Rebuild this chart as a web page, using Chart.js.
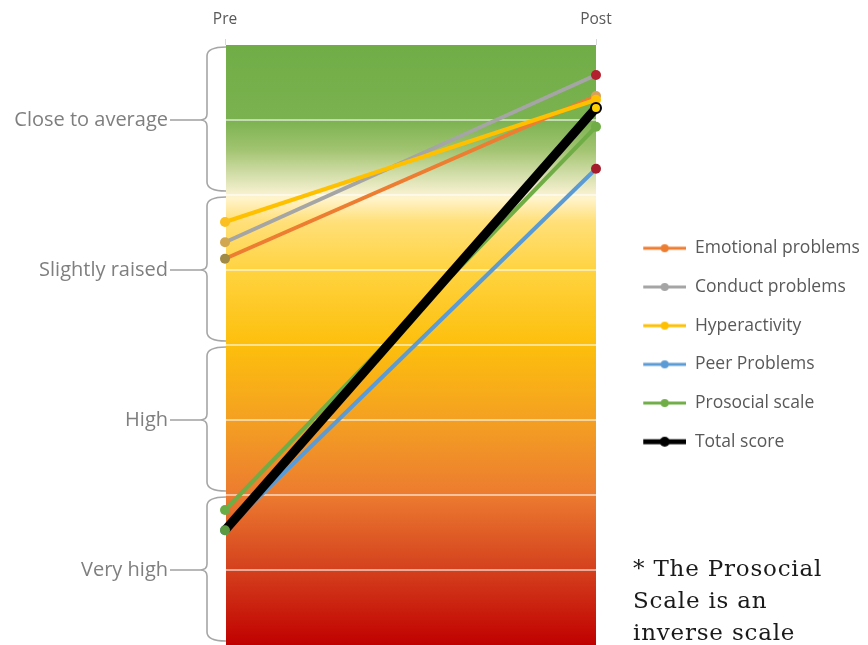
<!DOCTYPE html>
<html><head><meta charset="utf-8">
<script src="https://cdn.jsdelivr.net/npm/chart.js@4/dist/chart.umd.min.js"></script>
<style>
html,body{margin:0;padding:0;background:#fff;}
#wrap{position:relative;width:868px;height:645px;overflow:hidden;}
#note{position:absolute;left:633px;top:552px;font-family:"DejaVu Serif";font-size:23px;letter-spacing:0.8px;line-height:32px;color:#1a1a1a;}
</style></head><body>
<div id="wrap"><canvas id="c" width="868" height="645"></canvas>
<div id="note">* The Prosocial<br>Scale is an<br>inverse scale</div></div>
<script>
// Time points and score bands
const timepoints = ['Pre', 'Post'];
const bandValues = [1, 3, 5, 7];
const bandNames = ['Very high', 'High', 'Slightly raised', 'Close to average'];

// SDQ sub-scale scores (band units) at Pre and Post
const emotional = [5.15, 7.32];
const conduct = [5.37, 7.60];
const hyperactivity = [5.64, 7.27];
const peer = [1.53, 6.35];
const prosocial = [1.80, 6.91];
const total = [1.53, 7.16];

function legendIcon(color, lw, r) {
  const c = document.createElement('canvas');
  c.width = 69; c.height = 14;
  const g = c.getContext('2d');
  g.strokeStyle = color; g.lineWidth = lw;
  g.beginPath(); g.moveTo(26, 7); g.lineTo(69, 7); g.stroke();
  g.fillStyle = color;
  g.beginPath(); g.arc(47.5, 7, r, 0, Math.PI * 2); g.fill();
  return c;
}

// Vertical colour ramp behind the plot, keyed by scale value
const ramp = [
  [8, '#70ad47'], [7, '#7ab24f'], [6.6, '#a2c471'], [6.3, '#cfdca5'], [6.04, '#f4efcc'],
  [5.96, '#fff4cc'], [5.65, '#ffe07a'], [5, '#ffd340'], [4, '#fdbf0c'],
  [3, '#f4a022'], [2, '#ec7b30'], [1, '#d4401d'], [0, '#c00000']
];

const backdrop = {
  id: 'backdrop',
  beforeDraw(chart) {
    const { ctx, chartArea: a, scales: { y } } = chart;
    const g = ctx.createLinearGradient(0, a.top, 0, a.bottom);
    ramp.forEach(([v, col]) => {
      const f = (y.getPixelForValue(v) - a.top) / (a.bottom - a.top);
      g.addColorStop(Math.min(1, Math.max(0, f)), col);
    });
    ctx.save();
    ctx.fillStyle = g;
    ctx.fillRect(a.left + 1, a.top, a.right - a.left - 1, a.bottom - a.top);
    ctx.restore();
  }
};

// Curly braces grouping each band, with a dash to its label
const braces = {
  id: 'braces',
  afterDraw(chart) {
    const { ctx, chartArea: a, scales: { y } } = chart;
    const xr = a.left + 1, xv = a.left - 18, xt = a.left - 25, xd = a.left - 55;
    ctx.save();
    ctx.strokeStyle = '#a6a6a6';
    ctx.lineWidth = 1.6;
    for (let b = 0; b < 4; b++) {
      const yb = y.getPixelForValue(b * 2) - 4;
      const yt = y.getPixelForValue(b * 2 + 2) + 2;
      const ym = y.getPixelForValue(b * 2 + 1);
      ctx.beginPath();
      ctx.moveTo(xr, yt);
      ctx.quadraticCurveTo(xv, yt, xv, yt + 9);
      ctx.lineTo(xv, ym - 6);
      ctx.quadraticCurveTo(xv, ym, xt, ym);
      ctx.quadraticCurveTo(xv, ym, xv, ym + 6);
      ctx.lineTo(xv, yb - 9);
      ctx.quadraticCurveTo(xv, yb, xr, yb);
      ctx.stroke();
      ctx.beginPath();
      ctx.moveTo(xd, ym); ctx.lineTo(xt, ym);
      ctx.stroke();
    }
    ctx.restore();
  }
};

function series(label, data, color, width, order, pointColors, extra) {
  return Object.assign({
    label, data, order,
    borderColor: color, backgroundColor: color,
    borderWidth: width,
    pointRadius: 5, pointHoverRadius: 5,
    pointBackgroundColor: pointColors,
    pointBorderColor: pointColors,
    pointBorderWidth: 0,
    clip: false, tension: 0
  }, extra || {});
}

const chart = new Chart(document.getElementById('c'), {
  type: 'line',
  data: {
    labels: timepoints,
    datasets: [
      series('Emotional problems', emotional, '#ed7d31', 4, 2, ['#a08a45', '#d9a05c']),
      series('Conduct problems', conduct, '#a5a5a5', 4, 3, ['#d2a752', '#b3202e']),
      series('Hyperactivity', hyperactivity, '#ffc000', 4, 1, ['#fbbf22', '#ffc000']),
      series('Peer Problems', peer, '#5b9bd5', 4, 5, ['#5b9bd5', '#a51d2c']),
      series('Prosocial scale', prosocial, '#70ad47', 4, 4, ['#6aad47', '#70ad47']),
      series('Total score', total, '#000000', 9, 0, ['#5b9a40', '#ffd000'],
        { pointBorderColor: ['#5b9a40', '#000000'], pointBorderWidth: [0, 2] })
    ]
  },
  options: {
    responsive: false,
    animation: false,
    layout: { autoPadding: false, padding: { top: 0, left: 0, right: 0, bottom: 0 } },
    plugins: {
      tooltip: { enabled: false },
      legend: {
        position: 'right',
        align: 'center',
        fullSize: false,
        maxWidth: 272,
        labels: {
          usePointStyle: true,
          pointStyleWidth: 69,
          padding: 21.2,
          color: '#595959',
          font: { family: 'Open Sans', size: 17.5 },
          sort: (a, b) => a.datasetIndex - b.datasetIndex,
          generateLabels(chart) {
            const items = Chart.defaults.plugins.legend.labels.generateLabels(chart);
            items.forEach(it => {
              const ds = chart.data.datasets[it.datasetIndex];
              const isTotal = ds.label === 'Total score';
              it.pointStyle = legendIcon(ds.borderColor, isTotal ? 5 : 3, isTotal ? 5 : 4);
            });
            return items;
          }
        }
      }
    },
    scales: {
      x: {
        type: 'category',
        position: 'top',
        offset: false,
        grid: { display: true, drawOnChartArea: false, drawTicks: true, tickLength: 6, color: '#d9d9d9' },
        border: { display: false },
        ticks: { color: '#595959', font: { family: 'Open Sans', size: 15.5 }, padding: 10, maxRotation: 0, autoSkip: false },
        afterFit(s) { s.height = 45; }
      },
      y: {
        min: 0, max: 8,
        ticks: {
          stepSize: 1, autoSkip: false,
          callback: (v) => { const i = bandValues.indexOf(Math.round(v)); return (i < 0 || Math.round(v) !== v) ? '' : bandNames[i]; },
          color: '#7f7f7f',
          font: { family: 'Open Sans', size: 20 },
          padding: 57
        },
        grid: {
          color: (ctx) => (ctx.tick && ctx.tick.value > 0 && ctx.tick.value < 8) ? 'rgba(255,255,255,0.55)' : 'rgba(0,0,0,0)',
          lineWidth: 2, drawTicks: false
        },
        border: { display: false },
        afterFit(s) { s.width = 225; s.paddingTop = 0; s.paddingBottom = 0; }
      }
    }
  },
  plugins: [backdrop, braces]
});
</script>
</body></html>
